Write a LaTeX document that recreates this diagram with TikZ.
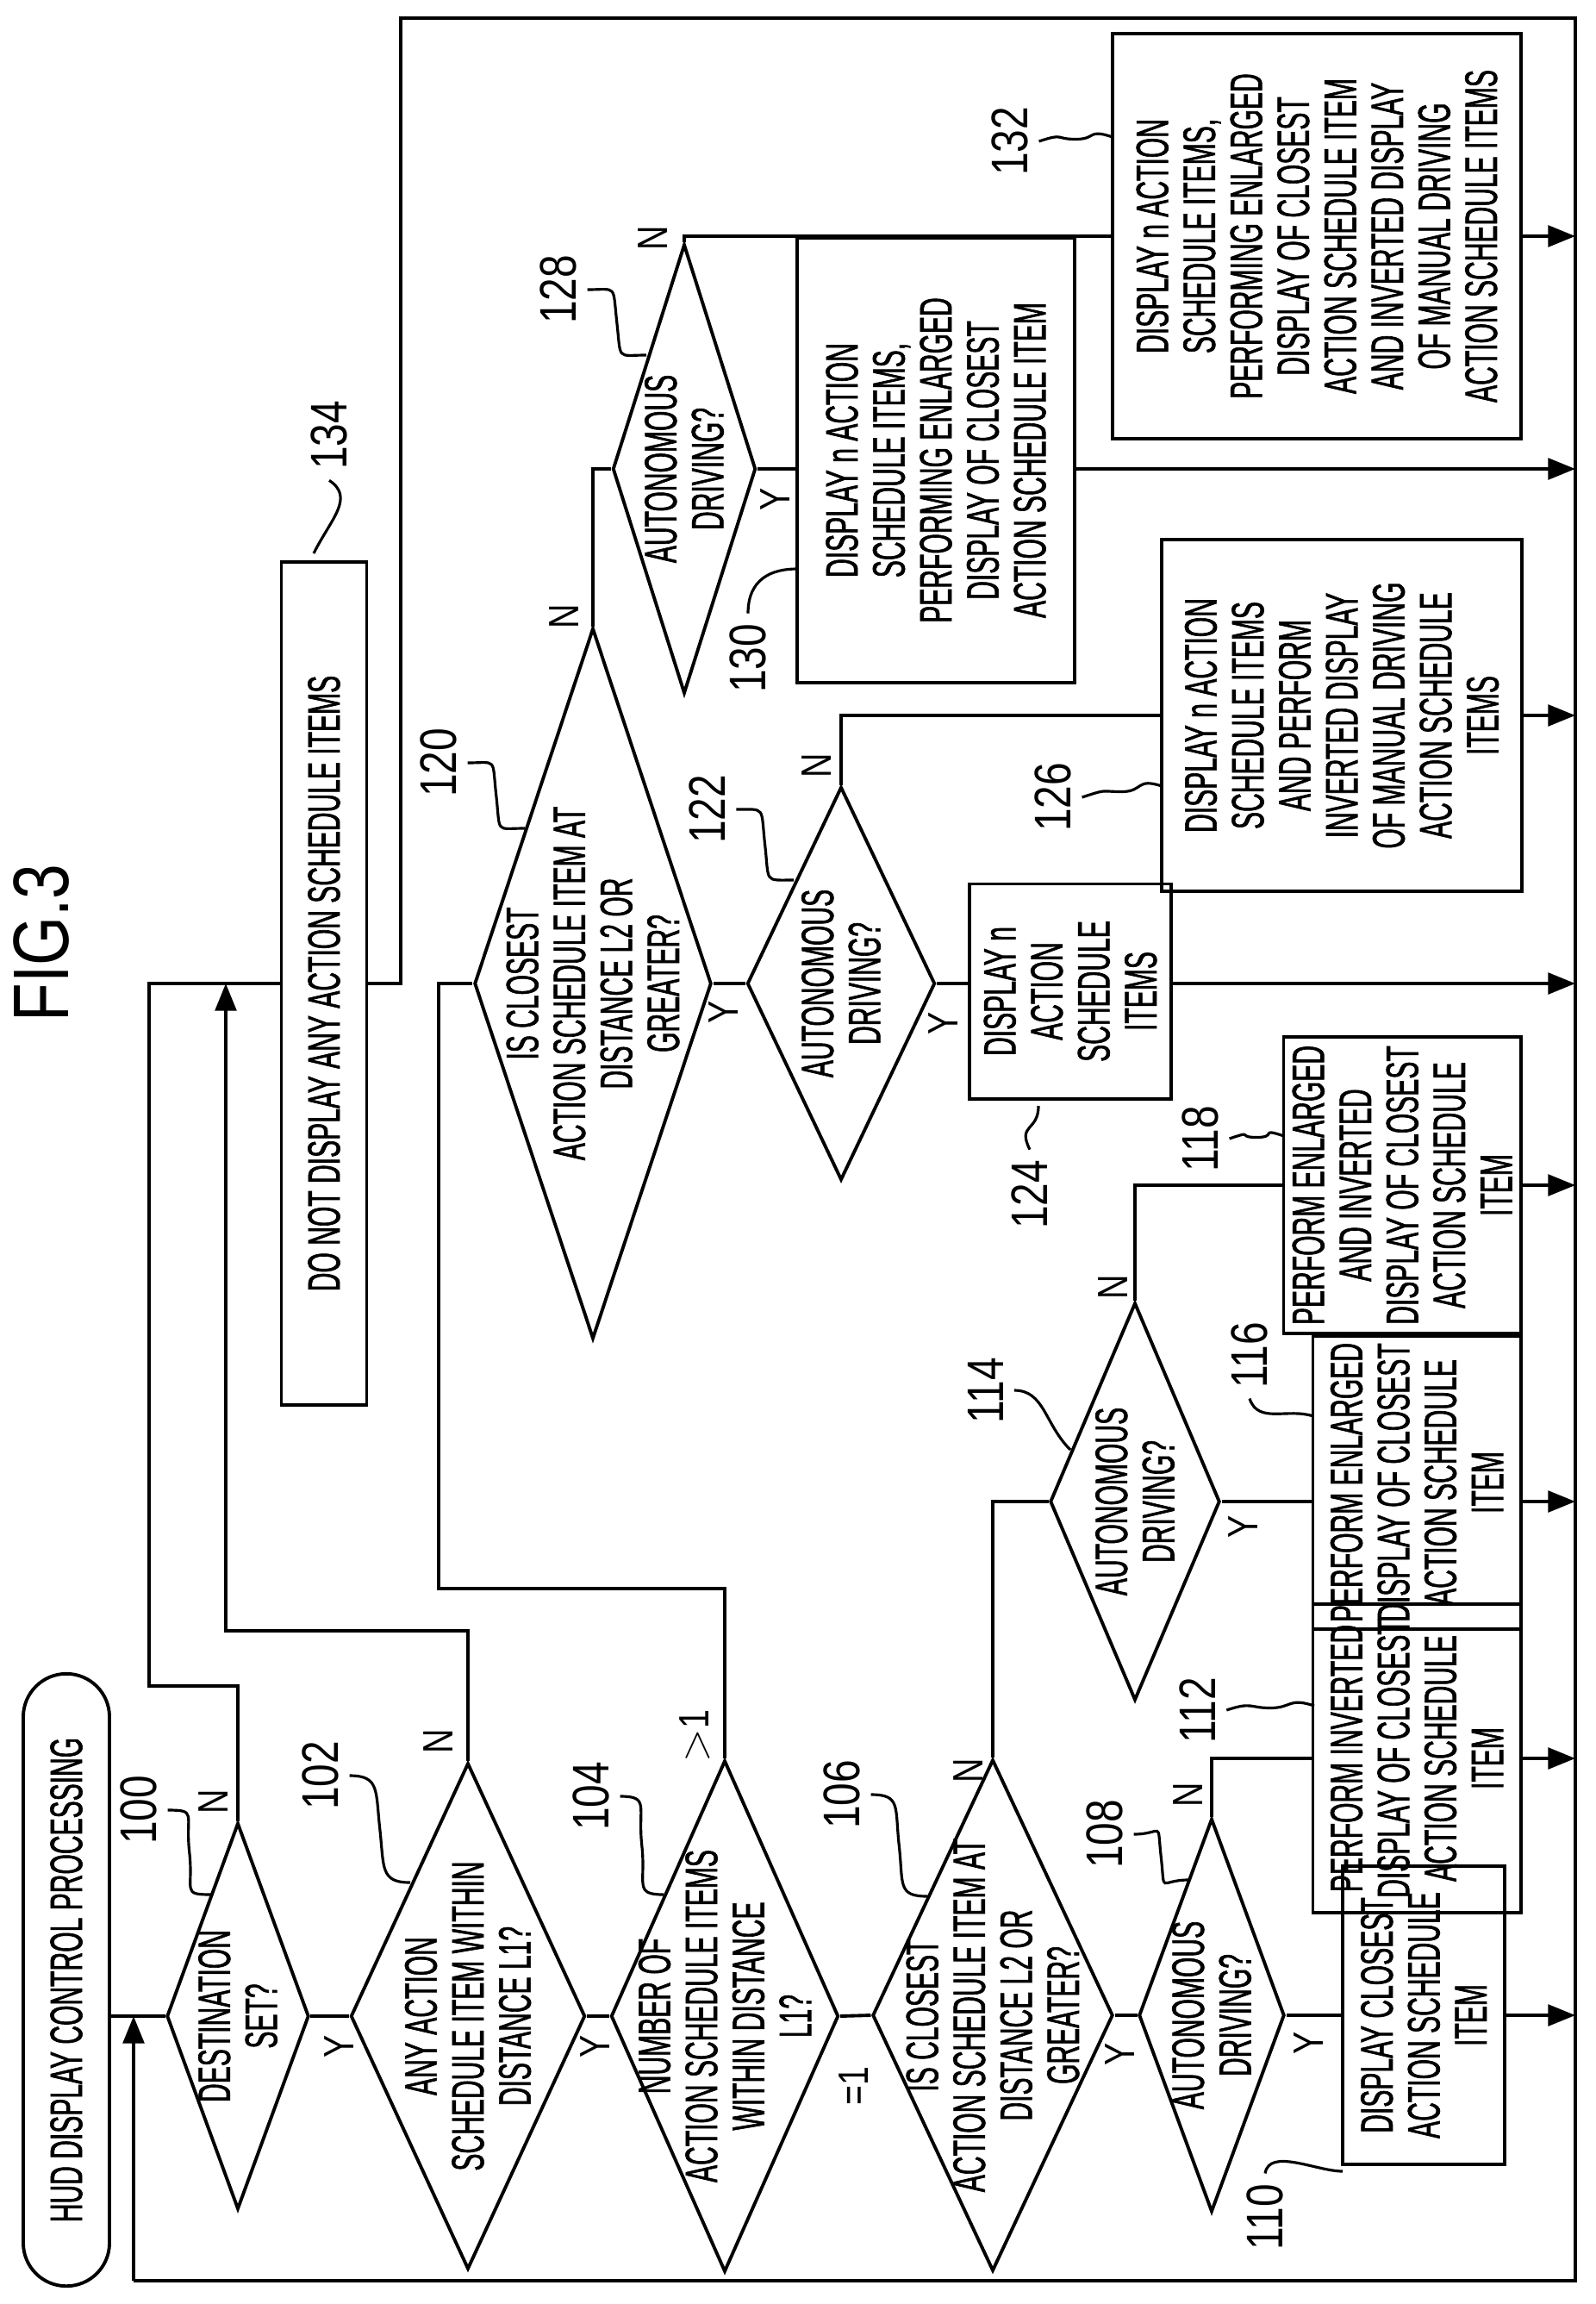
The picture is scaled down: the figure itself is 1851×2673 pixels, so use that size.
\documentclass[tikz,border=0pt]{standalone}
\usepackage{fontspec}
\setmainfont{Liberation Sans}[FakeStretch=0.57, FakeBold=1.2]
\newfontfamily\numfont{Liberation Sans}[FakeStretch=0.8]
\usetikzlibrary{shapes.geometric, arrows.meta, positioning, calc}
\tikzset{
    dia/.style={diamond, draw, line width=1.1pt, rotate=90, inner sep=0pt},
    box/.style={rectangle, draw, line width=1.1pt, rotate=90, inner sep=0pt},
    txt/.style={rotate=90, align=center, font=\fontsize{15}{15.5}\selectfont},
    num/.style={rotate=90, font=\numfont\fontsize{17}{18}\selectfont},
    yn/.style={rotate=90, font=\numfont\fontsize{14}{15}\selectfont},
    line/.style={line width=1.1pt},
    flow/.style={line width=1.1pt, -{Triangle[length=9pt,width=7pt]}},
    lead/.style={line width=0.9pt}
}
\begin{document}
\begin{tikzpicture}[x=0.01cm, y=-0.01cm]
    \useasboundingbox (0,0) rectangle (1851,2673);
    % Title and figure number
    \node[num, font=\numfont\fontsize{26}{28}\selectfont] (fig) at (48,1094) {FIG.3};
    \node[box, rounded corners=0.5cm, minimum width=7.1cm, minimum height=1cm] (start) at (77,2297) {};
    \node[txt] (tstart) at (start) {HUD DISPLAY CONTROL PROCESSING};

    % Main spine
    \node[dia, minimum width=4.48cm, minimum height=1.65cm] (d100) at (276,2339) {};
    \node[txt] (t100) at (d100) {DESTINATION\\SET?};
    \node[dia, minimum width=5.87cm, minimum height=2.72cm] (d102) at (543,2339) {};
    \node[txt] (t102) at (d102) {ANY ACTION\\SCHEDULE ITEM WITHIN\\DISTANCE L1?};
    \node[dia, minimum width=5.93cm, minimum height=2.64cm] (d104) at (841,2339) {};
    \node[txt] (t104) at (d104) {NUMBER OF\\ACTION SCHEDULE ITEMS\\WITHIN DISTANCE\\L1?};
    \node[dia, minimum width=5.93cm, minimum height=2.79cm] (d106) at (1152,2338) {};
    \node[txt] (t106) at (d106) {IS CLOSEST\\ACTION SCHEDULE ITEM AT\\DISTANCE L2 OR\\GREATER?};
    \node[dia, minimum width=4.56cm, minimum height=1.69cm] (d108) at (1406,2338) {};
    \node[txt] (t108) at (d108) {AUTONOMOUS\\DRIVING?};
    \node[box, minimum width=3.45cm, minimum height=1.88cm] (b110) at (1652,2338) {};
    \node[txt] (t110) at (b110) {DISPLAY CLOSEST\\ACTION SCHEDULE\\ITEM};
    \node[box, minimum width=3.57cm, minimum height=2.41cm] (b112) at (1644,2040) {};
    \node[txt] (t112) at (b112) {PERFORM INVERTED\\DISPLAY OF CLOSEST\\ACTION SCHEDULE\\ITEM};
    \node[dia, minimum width=4.61cm, minimum height=1.97cm] (d114) at (1317,1742) {};
    \node[txt] (t114) at (d114) {AUTONOMOUS\\DRIVING?};
    \node[box, minimum width=3.39cm, minimum height=2.41cm] (b116) at (1644,1720) {};
    \node[txt] (t116) at (b116) {PERFORM ENLARGED\\DISPLAY OF CLOSEST\\ACTION SCHEDULE\\ITEM};
    \node[box, minimum width=3.43cm, minimum height=2.75cm] (b118) at (1627,1375) {};
    \node[txt] (t118) at (b118) {PERFORM ENLARGED\\AND INVERTED\\DISPLAY OF CLOSEST\\ACTION SCHEDULE\\ITEM};

    % Upper branch
    \node[box, minimum width=9.77cm, minimum height=0.99cm] (b134) at (376,1141) {};
    \node[txt] (t134) at (b134) {DO NOT DISPLAY ANY ACTION SCHEDULE ITEMS};
    \node[dia, minimum width=8.24cm, minimum height=2.75cm] (d120) at (688,1141) {};
    \node[txt] (t120) at (d120) {IS CLOSEST\\ACTION SCHEDULE ITEM AT\\DISTANCE L2 OR\\GREATER?};
    \node[dia, minimum width=4.56cm, minimum height=2.18cm] (d122) at (976,1141) {};
    \node[txt] (t122) at (d122) {AUTONOMOUS\\DRIVING?};
    \node[box, minimum width=2.49cm, minimum height=2.34cm] (b124) at (1242,1150) {};
    \node[txt] (t124) at (b124) {DISPLAY n\\ACTION\\SCHEDULE\\ITEMS};
    \node[box, minimum width=4.08cm, minimum height=4.17cm] (b126) at (1557,830) {};
    \node[txt] (t126) at (b126) {DISPLAY n ACTION\\SCHEDULE ITEMS\\AND PERFORM\\INVERTED DISPLAY\\OF MANUAL DRIVING\\ACTION SCHEDULE\\ITEMS};
    \node[dia, minimum width=5.21cm, minimum height=1.66cm] (d128) at (794,544) {};
    \node[txt] (t128) at (d128) {AUTONOMOUS\\DRIVING?};
    \node[box, minimum width=5.15cm, minimum height=3.22cm] (b130) at (1086,534) {};
    \node[txt] (t130) at (b130) {DISPLAY n ACTION\\SCHEDULE ITEMS,\\PERFORMING ENLARGED\\DISPLAY OF CLOSEST\\ACTION SCHEDULE ITEM};
    \node[box, minimum width=4.70cm, minimum height=4.74cm] (b132) at (1528,274) {};
    \node[txt] (t132) at (b132) {DISPLAY n ACTION\\SCHEDULE ITEMS,\\PERFORMING ENLARGED\\DISPLAY OF CLOSEST\\ACTION SCHEDULE ITEM\\AND INVERTED DISPLAY\\OF MANUAL DRIVING\\ACTION SCHEDULE ITEMS};

    % Frame corners
    \coordinate (up) at (465,21);
    \coordinate (tr) at (1828,21);
    \coordinate (br) at (1828,2646);
    \coordinate (bl) at (155,2646);

    % Y / N labels
    \node[yn] (n100) at (248,2090) {N};
    \node[yn] (y100) at (394,2374) {Y};
    \node[yn] (n102) at (509,2020) {N};
    \node[yn] (y102) at (691,2374) {Y};
    \node[yn] (g104) at (806,2014) {$>$1};
    \node[yn] (e104) at (991,2420) {=1};
    \node[yn] (n106) at (1124,2054) {N};
    \node[yn] (y106) at (1300,2383) {Y};
    \node[yn] (n108) at (1379,2082) {N};
    \node[yn] (y108) at (1519,2370) {Y};
    \node[yn] (n114) at (1292,1493) {N};
    \node[yn] (y114) at (1443,1771) {Y};
    \node[yn] (n120) at (655,715) {N};
    \node[yn] (y120) at (840,1174) {Y};
    \node[yn] (n122) at (948,888) {N};
    \node[yn] (y122) at (1095,1187) {Y};
    \node[yn] (n128) at (758,276) {N};
    \node[yn] (y128) at (900,579) {Y};

    % Connections
    \draw[line] (d100.north -| start.south) -- (d100.north);
    \draw[line] (d100.south) -- (d102.north);
    \draw[line] (d102.south) -- (d104.north);
    \draw[line] (d104.south) -- (d106.north);
    \draw[line] (d106.south) -- (d108.north);
    \draw[line] (d108.south) -- (b110.north);
    \draw[line] (d100.east) |- (173,1956) -- (173,1141) -- (b134.north);
    \draw[flow] (d102.east) |- (262,1892) -- (262,1141);
    \draw[line] (d104.east) |- (509,1843) -- (509,1141) -- (d120.north);
    \draw[line] (d106.east) |- (d114.north);
    \draw[line] (d108.east) |- (b112.north);
    \draw[line] (d114.south) -- (d114.south -| b116.north);
    \draw[line] (d114.east) |- (b118.north);
    \draw[line] (d120.south) -- (d122.north);
    \draw[line] (d122.south) -- (d122.south -| b124.north);
    \draw[line] (d122.east) |- (b126.north);
    \draw[line] (d120.east) |- (d128.north);
    \draw[line] (d128.south) -- (d128.south -| b130.north);
    \draw[line] (d128.east) |- (b132.north);
    \draw[line] (b134.south) -| (up) -- (tr) -- (br) -- (bl);
    \draw[flow] (bl) -- (bl |- d100.north);
    \foreach \b in {b110,b112,b118,b126,b132}
        \draw[flow] (\b.south) -- (\b.south -| br);
    \draw[flow] (d114.south -| b116.south) -- (d114.south -| br);
    \draw[flow] (d122.south -| b124.south) -- (d122.south -| br);
    \draw[flow] (d128.south -| b130.south) -- (d128.south -| br);

    % Reference numerals
    \node[num] (r100) at (161,2100) {100};
    \node[num] (r102) at (372,2060) {102};
    \node[num] (r104) at (686,2084) {104};
    \node[num] (r106) at (977,2082) {106};
    \node[num] (r108) at (1282,2128) {108};
    \node[num] (r110) at (1468,2572) {110};
    \node[num] (r112) at (1390,1984) {112};
    \node[num] (r114) at (1144,1613) {114};
    \node[num] (r116) at (1450,1572) {116};
    \node[num] (r118) at (1393,1321) {118};
    \node[num] (r120) at (509,885) {120};
    \node[num] (r122) at (821,939) {122};
    \node[num] (r124) at (1195,1386) {124};
    \node[num] (r126) at (1222,925) {126};
    \node[num] (r128) at (648,336) {128};
    \node[num] (r130) at (868,764) {130};
    \node[num] (r132) at (1172,164) {132};
    \node[num] (r134) at (382,505) {134};

    \coordinate (c100) at (245,2198);
    \coordinate (c102) at (476,2184);
    \coordinate (c104) at (770,2198);
    \coordinate (c106) at (1076,2200);
    \coordinate (c108) at (1379,2181);
    \coordinate (c110) at (1558,2519);
    \coordinate (c112) at (1525,1979);
    \coordinate (c114) at (1242,1682);
    \coordinate (c116) at (1524,1643);
    \coordinate (c118) at (1490,1318);
    \coordinate (c120) at (609,961);
    \coordinate (c122) at (921,1021);
    \coordinate (c124) at (1205,1283);
    \coordinate (c126) at (1348,912);
    \coordinate (c128) at (750,412);
    \coordinate (c130) at (925,660);
    \coordinate (c132) at (1291,159);
    \coordinate (c134) at (364,642);

    \foreach \r in {100,102,104,106,108,120,122,128}
        \draw[lead] (r\r.south) .. controls +(35,0) and +(-5,-45) .. ($(r\r.south)!0.5!(c\r)$) .. controls +(5,45) and +(-35,0) .. (c\r);
    \foreach \r in {112,118,126,132}
        \draw[lead] (r\r.south) .. controls +(30,-10) and +(-25,0) .. ($(r\r.south)!0.5!(c\r)$) .. controls +(25,0) and +(-30,-10) .. (c\r);
    \draw[lead] (r110.east) .. controls +(5,-30) and +(-30,0) .. (c110);
    \draw[lead] (r124.east) .. controls +(-15,-30) and +(0,30) .. (c124);
    \draw[lead] (r130.east) .. controls +(0,-40) and +(-30,0) .. (c130);
    \draw[lead] (r114.south) .. controls +(35,0) and +(-30,-30) .. (c114);
    \draw[lead] (r116.west) .. controls +(10,30) and +(-30,-10) .. (c116);
    \draw[lead] (r134.west) .. controls +(30,20) and +(20,-40) .. (c134);
\end{tikzpicture}
\end{document}
